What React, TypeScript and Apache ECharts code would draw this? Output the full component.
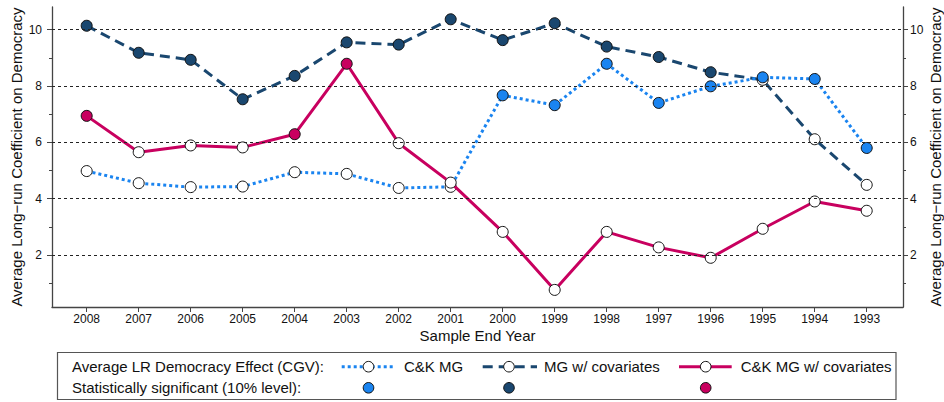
import React, { useEffect, useRef } from "react";
import * as echarts from "echarts";

const years = ["2008","2007","2006","2005","2004","2003","2002","2001","2000","1999","1998","1997","1996","1995","1994","1993"];
const ckMG = [4.98, 4.55, 4.41, 4.43, 4.94, 4.88, 4.38, 4.42, 7.67, 7.32, 8.79, 7.40, 7.99, 8.31, 8.25, 5.80];
const ckMGSig = [0, 0, 0, 0, 0, 0, 0, 0, 1, 1, 1, 1, 1, 1, 1, 1];
const mgCov = [10.14, 9.18, 8.93, 7.53, 8.36, 9.55, 9.47, 10.37, 9.63, 10.23, 9.40, 9.03, 8.49, 8.22, 6.11, 4.49];
const mgCovSig = [1, 1, 1, 1, 1, 1, 1, 1, 1, 1, 1, 1, 1, 0, 0, 0];
const ckMGCov = [6.94, 5.65, 5.89, 5.82, 6.29, 8.79, 5.97, 4.57, 2.82, 0.76, 2.82, 2.27, 1.90, 2.93, 3.90, 3.57];
const ckMGCovSig = [1, 0, 0, 0, 1, 1, 0, 0, 0, 0, 0, 0, 0, 0, 0, 0];
const majorTicks = [2, 4, 6, 8, 10];
const minorTicks = [1, 3, 5, 7, 9];

const BLUE = "#1a84f0";
const NAVY = "#1a476f";
const RED = "#c8005f";
const FONT = "'Liberation Sans', Arial, sans-serif";
const AXIS = "#444";
const Y_MIN = 0.153;
const Y_MAX = 10.806;

function yAxisDef(position: "left" | "right", ticks: number[], major: boolean, margin: number, gap: number) {
  return {
    type: "value",
    position,
    min: Y_MIN,
    max: Y_MAX,
    name: major ? "Average Long\u2212run Coefficient on Democracy" : "",
    nameLocation: "middle",
    nameRotate: 90,
    nameGap: gap,
    nameMoveOverlap: false,
    nameTextStyle: { fontFamily: FONT, fontSize: 15, color: "#111" },
    axisLine: { show: major, onZero: false, lineStyle: { color: AXIS, width: 1.3 } },
    axisTick: { show: true, customValues: ticks, length: major ? 5 : 3, lineStyle: { color: AXIS, width: 1 } },
    axisLabel: {
      show: major,
      customValues: ticks,
      margin,
      fontFamily: FONT,
      fontSize: 12,
      color: "#111",
    },
    splitLine: { show: false },
  };
}

function lineSeries(name: string, values: number[], sig: number[], color: string, type: any, z: number) {
  return {
    name,
    type: "line",
    z,
    data: values.map((v, i) => ({
      value: [i, v],
      itemStyle: { color: sig[i] ? color : "#ffffff", borderColor: "#111", borderWidth: 1 },
    })),
    symbol: "circle",
    symbolSize: 11,
    showAllSymbol: true,
    lineStyle: { color, width: 3, type, cap: "butt" },
    itemStyle: { borderColor: "#111", borderWidth: 1 },
  };
}

export default function App() {
  const ref = useRef<HTMLDivElement>(null);
  useEffect(() => {
    if (!ref.current) return;
    const chart = echarts.init(ref.current, null, { renderer: "svg" });
    const idx = years.map((_, i) => i);
    const row1 = 366.7;
    const row2 = 387.8;
    const legendText = (x: number, y: number, text: string) => ({
      type: "text",
      x,
      y,
      z: 10,
      style: { text, fontFamily: FONT, fontSize: 15, fill: "#111", verticalAlign: "middle", align: "left" },
    });
    const marker = (x: number, y: number, fill: string) => ({
      type: "circle",
      shape: { cx: x, cy: y, r: 5.3 },
      style: { fill, stroke: "#111", lineWidth: 1 },
      z: 10,
    });
    const legLine = (x1: number, x2: number, color: string, dash: any) => ({
      type: "line",
      shape: { x1, y1: row1, x2, y2: row1 },
      style: { stroke: color, lineWidth: 3, lineDash: dash, lineCap: "butt" },
      z: 5,
    });
    chart.setOption({
      animation: false,
      backgroundColor: "#ffffff",
      grid: { left: 52, right: 41, top: 7, bottom: 95, outerBoundsMode: "none", containLabel: false },
      xAxis: {
        type: "value",
        min: -0.667,
        max: 15.698,
        name: "Sample End Year",
        nameLocation: "middle",
        nameGap: 21,
        nameMoveOverlap: false,
        nameTextStyle: { fontFamily: FONT, fontSize: 15, color: "#111" },
        axisLine: { show: true, onZero: false, lineStyle: { color: AXIS, width: 1.3 } },
        axisTick: { show: true, customValues: idx, length: 5, lineStyle: { color: AXIS } },
        axisLabel: {
          customValues: idx,
          margin: 6,
          fontFamily: FONT,
          fontSize: 12,
          color: "#111",
          formatter: (v: number) => years[Math.round(v)],
        },
        splitLine: { show: false },
      },
      yAxis: [
        yAxisDef("left", majorTicks, true, 10, 28),
        yAxisDef("right", majorTicks, true, 7, 25),
        yAxisDef("left", minorTicks, false, 8, 0),
        yAxisDef("right", minorTicks, false, 8, 0),
      ],
      series: [
        {
          type: "line",
          data: [],
          z: 1,
          silent: true,
          markLine: {
            silent: true,
            symbol: "none",
            label: { show: false },
            lineStyle: { color: "#222", width: 1, type: [3, 3] },
            data: majorTicks.map((t) => ({ yAxis: t })),
          },
        },
        lineSeries("MG w/ covariates", mgCov, mgCovSig, NAVY, [10, 6], 2),
        lineSeries("C&K MG", ckMG, ckMGSig, BLUE, [3, 3], 3),
        lineSeries("C&K MG w/ covariates", ckMGCov, ckMGCovSig, RED, "solid", 4),
      ],
      graphic: [
        {
          type: "rect",
          shape: { x: 57.5, y: 352.5, width: 838.5, height: 47 },
          style: { fill: "#fff", stroke: "#555", lineWidth: 1.2 },
          z: 1,
        },
        legendText(72, row1, "Average LR Democracy Effect (CGV):"),
        legendText(72, row2, "Statistically significant (10% level):"),
        legLine(341.7, 395, BLUE, [3, 3]),
        marker(368.5, row1, "#fff"),
        legendText(404, row1, "C&K MG"),
        legLine(482.7, 537, NAVY, [10, 6]),
        marker(509, row1, "#fff"),
        legendText(544, row1, "MG w/ covariates"),
        legLine(679, 731.7, RED, "solid"),
        marker(705.7, row1, "#fff"),
        legendText(740.7, row1, "C&K MG w/ covariates"),
        marker(368.5, row2, BLUE),
        marker(509, row2, NAVY),
        marker(705.7, row2, RED),
      ],
    });
    return () => chart.dispose();
  }, []);
  return (
    <div
      ref={ref}
      style={{ position: "absolute", left: 0, top: 0, width: 944, height: 402 }}
    />
  );
}
